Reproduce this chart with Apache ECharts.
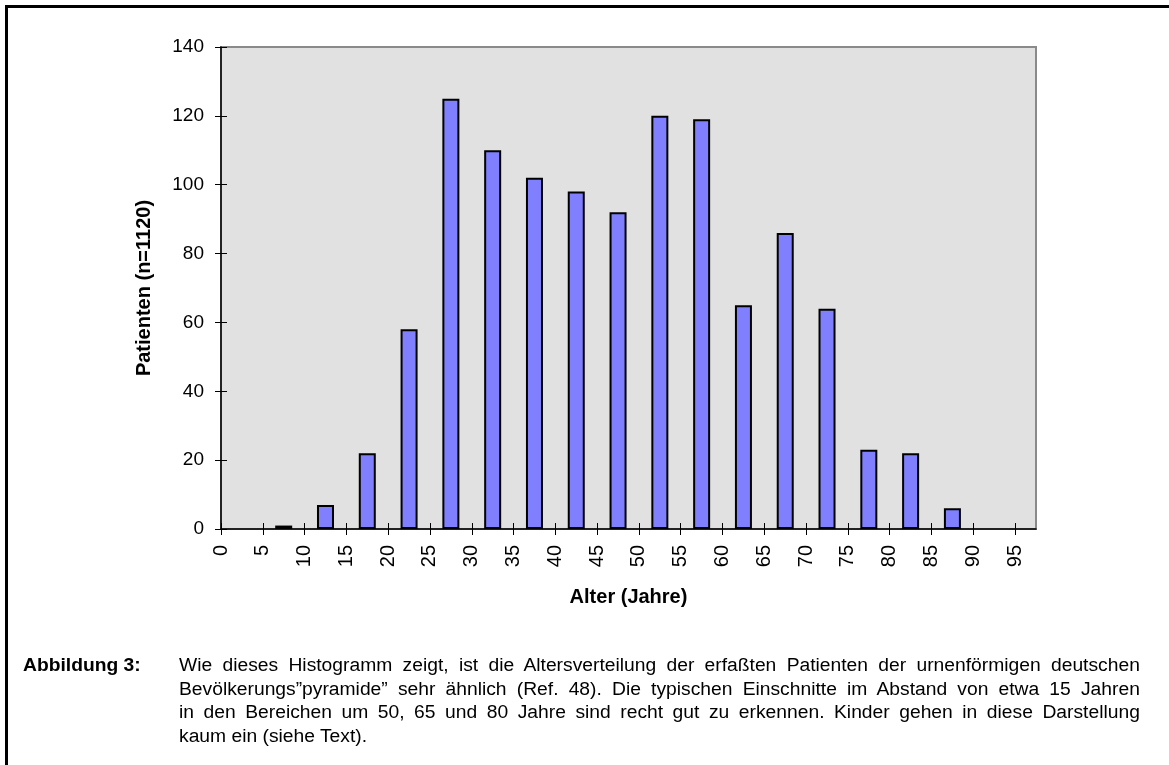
<!DOCTYPE html>
<html>
<head>
<meta charset="utf-8">
<script src="https://cdn.jsdelivr.net/npm/echarts@6/dist/echarts.min.js"></script>
<style>
    body { margin: 0; background: #fff; }
    #chart { position: absolute; left: 0; top: 0; width: 1169px; height: 765px; }
    #frame { position: absolute; left: 5px; top: 5px; width: 1200px; height: 800px;
        border-left: 3px solid #000; border-top: 3px solid #000; }
    #caption { position: absolute; left: 23px; top: 654px; width: 1100px; height: 100px;
        transform: scaleX(1.07); transform-origin: 0 0;
        font-family: "Liberation Sans", Arial, sans-serif; font-size: 18px; line-height: 23.6px; color: #000; }
    #capLabel { position: absolute; left: 0; top: 0; font-weight: bold; white-space: nowrap; }
    #capText { position: absolute; left: 145.8px; top: 0; width: 898px; }
    #capText div { text-align: justify; text-align-last: justify; white-space: nowrap; }
    #capText div.last { text-align: left; text-align-last: left; }
</style>
</head>
<body>
<div id="chart"></div>
<div id="frame"></div>
<div id="caption">
    <div id="capLabel">Abbildung 3:</div>
    <div id="capText">
        <div>Wie dieses Histogramm zeigt, ist die Altersverteilung der erfaßten Patienten der urnenförmigen deutschen</div>
        <div>Bevölkerungs”pyramide” sehr ähnlich (Ref. 48). Die typischen Einschnitte im Abstand von etwa 15 Jahren</div>
        <div>in den Bereichen um 50, 65 und 80 Jahre sind recht gut zu erkennen. Kinder gehen in diese Darstellung</div>
        <div class="last">kaum ein (siehe Text).</div>
    </div>
</div>
<script>
// Altersklassen (Beginn der 5-Jahres-Klasse) und Patientenzahl je Klasse
var binStarts = [0, 5, 10, 15, 20, 25, 30, 35, 40, 45, 50, 55, 60, 65, 70, 75, 80, 85, 90, 95];
var counts = [0, 1, 7, 22, 58, 125, 110, 102, 98, 92, 120, 119, 65, 86, 64, 23, 22, 6, 0, 0];
var binWidth = 5;
var xTicks = [0, 5, 10, 15, 20, 25, 30, 35, 40, 45, 50, 55, 60, 65, 70, 75, 80, 85, 90, 95];
var yTicks = [0, 20, 40, 60, 80, 100, 120, 140];

var font = '"Liberation Sans", Arial, sans-serif';

// leere Klassen werden nicht gezeichnet (kein Strich auf der Achse)
var barData = [];
for (var i = 0; i < binStarts.length; i++) {
    barData.push([binStarts[i] + binWidth / 2, counts[i] > 0 ? counts[i] : null]);
}

var chart = echarts.init(document.getElementById('chart'));

var option = {
    animation: false,
    backgroundColor: 'transparent',
    grid: {
        left: 221,
        top: 47,
        right: 133,
        bottom: 236,
        show: true,
        backgroundColor: '#e1e1e1',
        borderColor: '#8a8a8a',
        borderWidth: 2
    },
    xAxis: [{
        type: 'value',
        min: 0,
        max: 97.5,
        name: 'Alter (Jahre)',
        nameLocation: 'middle',
        nameGap: 58,
        nameTextStyle: { fontFamily: font, fontSize: 20, fontWeight: 'bold', color: '#000' },
        axisLine: { show: true, lineStyle: { color: '#000', width: 1.5 } },
        axisTick: { show: true, length: 6, customValues: xTicks, lineStyle: { color: '#000' } },
        axisLabel: {
            customValues: xTicks,
            rotate: 90,
            margin: 16,
            fontFamily: font,
            fontSize: 20,
            color: '#000'
        },
        splitLine: { show: false }
    }, {
        // innerer Teil der durchgehenden Teilstriche
        type: 'value',
        min: 0,
        max: 97.5,
        position: 'bottom',
        axisLine: { show: false },
        axisTick: { show: true, inside: true, length: 6, customValues: xTicks, lineStyle: { color: '#000' } },
        axisLabel: { show: false },
        splitLine: { show: false }
    }],
    yAxis: [{
        type: 'value',
        min: yTicks[0],
        max: yTicks[yTicks.length - 1],
        interval: 20,
        name: 'Patienten (n=1120)',
        nameLocation: 'middle',
        nameGap: 67,
        nameTextStyle: { fontFamily: font, fontSize: 20, fontWeight: 'bold', color: '#000' },
        axisLine: { show: true, lineStyle: { color: '#000', width: 1.5 } },
        axisTick: { show: true, length: 6, lineStyle: { color: '#000' } },
        axisLabel: { margin: 17, fontFamily: font, fontSize: 19, color: '#000' },
        splitLine: { show: false }
    }, {
        type: 'value',
        min: yTicks[0],
        max: yTicks[yTicks.length - 1],
        interval: 20,
        position: 'left',
        axisLine: { show: false },
        axisTick: { show: true, inside: true, length: 6, lineStyle: { color: '#000' } },
        axisLabel: { show: false },
        splitLine: { show: false }
    }],
    series: [{
        type: 'bar',
        xAxisIndex: 0,
        yAxisIndex: 0,
        data: barData,
        barWidth: 17,
        itemStyle: {
            color: '#8080ff',
            borderColor: '#000',
            borderWidth: 2
        }
    }]
};

chart.setOption(option);
</script>
</body>
</html>
